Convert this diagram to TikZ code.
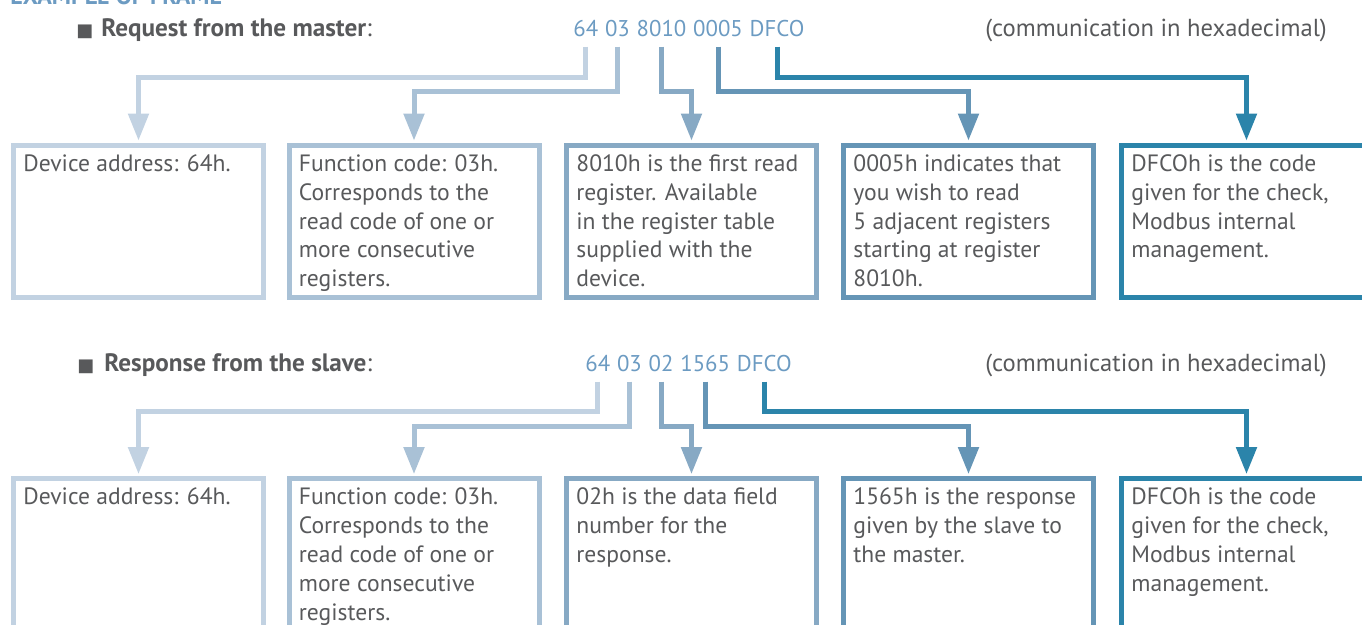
\documentclass[tikz,border=0pt]{standalone}
\usepackage{fontspec}
\setmainfont{PT Sans}
\newfontfamily\symfont{DejaVu Sans}
\usepackage{xcolor}
\usetikzlibrary{arrows.meta, positioning}

\definecolor{fieldA}{HTML}{C2D2E2}
\definecolor{fieldB}{HTML}{A9C1D6}
\definecolor{fieldC}{HTML}{87A9C4}
\definecolor{fieldD}{HTML}{6595B6}
\definecolor{fieldE}{HTML}{2B84AA}
\definecolor{hexblue}{HTML}{6C9BC2}
\definecolor{headgrey}{HTML}{58595B}

\begin{document}
\begin{tikzpicture}[
  x=0.5pt, y=-0.5pt,
  >={Triangle[width=10pt, length=13.5pt]},
  every node/.style={inner sep=0pt},
  title/.style={anchor=base west, font=\bfseries\fontsize{12}{14}\selectfont, text=hexblue},
  heading/.style={anchor=base west, font=\fontsize{12.6}{14}\selectfont, text=headgrey},
  hexcode/.style={font=\fontsize{11.4}{14}\selectfont, text=hexblue, inner xsep=0pt, inner ysep=4.5pt},
  note/.style={anchor=base west, font=\fontsize{12.3}{14}\selectfont, text=headgrey},
  fieldbox/.style={draw, line width=2.5pt, minimum width=125pt, minimum height=76pt},
  fieldtext/.style={anchor=north west, align=left, text=headgrey,
                    font=\fontsize{11.8}{14.4}\selectfont, xshift=6pt, yshift=-5.6pt},
  conn/.style={->, line width=2.5pt, shorten >=1.2pt},
]
\useasboundingbox (0,0) rectangle (1362,625);
\clip (0,0) rectangle (1362,625);

\node[title] (title) at (10,5) {EXAMPLE OF FRAME};

%% ── Request ─────────────────────────────────────────────────────────────────
\node[heading] (rqhead) at (76,37)
  {{\symfont\fontsize{9}{12}\selectfont■}\hspace{4pt}\textbf{Request from the master}:};
\node[note] (rqnote) at (985,37) {(communication in hexadecimal)};

\node[hexcode, anchor=base west] (rq64) at (573,37) {64};
\node[hexcode, base right=3pt of rq64] (rq03) {03};
\node[hexcode, base right=3pt of rq03] (rq8010) {8010};
\node[hexcode, base right=3pt of rq8010] (rq0005) {0005};
\node[hexcode, base right=3pt of rq0005] (rqdfco) {DFCO};

\node[fieldbox, fieldA] (rqbox1) at (138.5,221.5) {};
\node[fieldbox, fieldB] (rqbox2) at (414,221.5) {};
\node[fieldbox, fieldC] (rqbox3) at (691.5,221.5) {};
\node[fieldbox, fieldD] (rqbox4) at (968.5,221.5) {};
\node[fieldbox, fieldE] (rqbox5) at (1246.5,221.5) {};

\node[fieldtext] (rqtext1) at (rqbox1.north west) {Device address: 64h.};
\node[fieldtext] (rqtext2) at (rqbox2.north west)
  {Function code: 03h.\\Corresponds to the\\read code of one or\\more consecutive\\registers.};
\node[fieldtext] (rqtext3) at (rqbox3.north west)
  {8010h is the first read\\register. Available\\in the register table\\supplied with the\\device.};
\node[fieldtext] (rqtext4) at (rqbox4.north west)
  {0005h indicates that\\you wish to read\\5 adjacent registers\\starting at register\\8010h.};
\node[fieldtext] (rqtext5) at (rqbox5.north west)
  {DFCOh is the code\\given for the check,\\Modbus internal\\management.};

\draw[conn, fieldA] (rq64.south)   -- ++(0,30.5) -| (rqbox1.north);
\draw[conn, fieldB] (rq03.south)   -- ++(0,45)   -| (rqbox2.north);
\draw[conn, fieldC] (rq8010.south) -- ++(0,45)   -| (rqbox3.north);
\draw[conn, fieldD] (rq0005.south) -- ++(0,45)   -| (rqbox4.north);
\draw[conn, fieldE] (rqdfco.south) -- ++(0,30.5) -| (rqbox5.north);

%% ── Response ────────────────────────────────────────────────────────────────
\node[heading] (rshead) at (77,372)
  {{\symfont\fontsize{9}{12}\selectfont■}\hspace{5pt}\textbf{Response from the slave}:};
\node[note] (rsnote) at (985,372) {(communication in hexadecimal)};

\node[hexcode, anchor=base west] (rs64) at (585,372) {64};
\node[hexcode, base right=3pt of rs64] (rs03) {03};
\node[hexcode, base right=3pt of rs03] (rs02) {02};
\node[hexcode, base right=3pt of rs02] (rs1565) {1565};
\node[hexcode, base right=3pt of rs1565] (rsdfco) {DFCO};

\node[fieldbox, fieldA] (rsbox1) at (138.5,555) {};
\node[fieldbox, fieldB] (rsbox2) at (414,555) {};
\node[fieldbox, fieldC] (rsbox3) at (691.5,555) {};
\node[fieldbox, fieldD] (rsbox4) at (968.5,555) {};
\node[fieldbox, fieldE] (rsbox5) at (1246.5,555) {};

\node[fieldtext] (rstext1) at (rsbox1.north west) {Device address: 64h.};
\node[fieldtext] (rstext2) at (rsbox2.north west)
  {Function code: 03h.\\Corresponds to the\\read code of one or\\more consecutive\\registers.};
\node[fieldtext] (rstext3) at (rsbox3.north west)
  {02h is the data field\\number for the\\response.};
\node[fieldtext] (rstext4) at (rsbox4.north west)
  {1565h is the response\\given by the slave to\\the master.};
\node[fieldtext] (rstext5) at (rsbox5.north west)
  {DFCOh is the code\\given for the check,\\Modbus internal\\management.};

\draw[conn, fieldA] (rs64.south)   -- ++(0,30) -| (rsbox1.north);
\draw[conn, fieldB] (rs03.south)   -- ++(0,45) -| (rsbox2.north);
\draw[conn, fieldC] (rs02.south)   -- ++(0,45) -| (rsbox3.north);
\draw[conn, fieldD] (rs1565.south) -- ++(0,45) -| (rsbox4.north);
\draw[conn, fieldE] (rsdfco.south) -- ++(0,30) -| (rsbox5.north);

\end{tikzpicture}
\end{document}
